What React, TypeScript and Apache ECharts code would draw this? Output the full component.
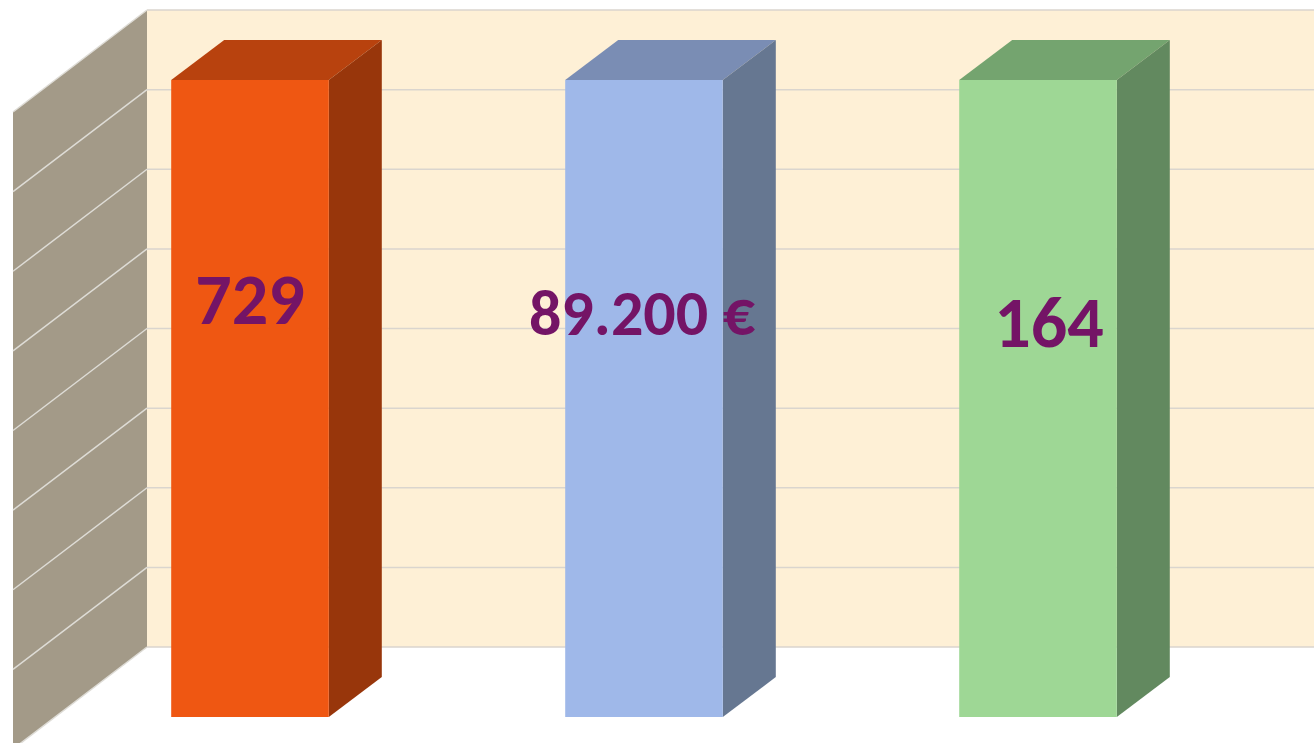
import React, { useEffect, useRef } from "react";
import * as echarts from "echarts";

// ---- data ----
const CATEGORIES = ["A", "B", "C"];
const BAR_HEIGHTS = [100, 100, 100]; // all bars reach the top of the scale
const BAR_LABELS = ["729", "89.200 €", "164"];
const TICK_VALUES = [0, 12.5, 25, 37.5, 50, 62.5, 75, 87.5, 100];

// ---- styles ----
const FRONT = ["#EF5712", "#9FB8E9", "#9ED795"];
const TOP = ["#B8420E", "#7A8DB4", "#74A46F"];
const SIDE = ["#98360B", "#667791", "#62895F"];
const LABEL_SIZES = [72, 64, 72];
const LABEL_OFFSETS = [[0, -100], [-2, -86], [11, -77]];
const BACK_OFF = [94, -70]; // front plane -> back wall
const BAR_DEPTH = [53, -40];
const WALL_DEPTH = [-134, 102]; // back wall -> front edge of side wall

export default function App() {
  const ref = useRef<HTMLDivElement>(null);
  useEffect(() => {
    if (!ref.current) return;
    const chart = echarts.init(ref.current, null, { renderer: "svg" });

    const wallsRender = (params: any, api: any) => {
      const children: any[] = [];
      const top = api.coord([0, 100]);
      const bot = api.coord([0, 0]);
      const left = params.coordSys.x;
      const bx = left + BACK_OFF[0];
      const yTop = top[1] + BACK_OFF[1];
      const yBot = bot[1] + BACK_OFF[1];
      // back wall
      children.push({
        type: "polygon",
        shape: { points: [[bx, yTop], [1400, yTop], [1400, yBot], [bx, yBot]] },
        style: { fill: "#FEF0D6" },
      });
      // side wall
      children.push({
        type: "polygon",
        shape: {
          points: [
            [bx, yTop],
            [bx, yBot],
            [bx + WALL_DEPTH[0], yBot + WALL_DEPTH[1]],
            [bx + WALL_DEPTH[0], yTop + WALL_DEPTH[1]],
          ],
        },
        style: { fill: "#A39A88" },
      });
      TICK_VALUES.forEach((v) => {
        const y = api.coord([0, v])[1] + BACK_OFF[1];
        children.push({
          type: "line",
          shape: { x1: bx, y1: y, x2: 1400, y2: y },
          style: { stroke: "#DAD5CE", lineWidth: 1.5 },
        });
        children.push({
          type: "line",
          shape: { x1: bx, y1: y, x2: bx + WALL_DEPTH[0], y2: y + WALL_DEPTH[1] },
          style: { stroke: "#DEDCD6", lineWidth: 1.5 },
        });
      });
      return { type: "group", children };
    };

    const barsRender = (params: any, api: any) => {
      const i = params.dataIndex;
      const idx = api.value(0);
      const val = api.value(1);
      const p0 = api.coord([idx, 0]);
      const p1 = api.coord([idx, val]);
      const w = api.size([1, 0])[0] * 0.4;
      const x0 = p0[0] - w / 2;
      const x1 = p0[0] + w / 2;
      const yT = p1[1];
      const yB = p0[1];
      const [dx, dy] = BAR_DEPTH;
      const midY = (yT + yB) / 2;
      return {
        type: "group",
        children: [
          {
            type: "polygon",
            shape: { points: [[x0, yT], [x1, yT], [x1 + dx, yT + dy], [x0 + dx, yT + dy]] },
            style: { fill: TOP[i] },
          },
          {
            type: "polygon",
            shape: { points: [[x1, yT], [x1 + dx, yT + dy], [x1 + dx, yB + dy], [x1, yB]] },
            style: { fill: SIDE[i] },
          },
          {
            type: "rect",
            shape: { x: x0, y: yT, width: w, height: yB - yT },
            style: { fill: FRONT[i] },
          },
          {
            type: "text",
            x: p0[0] + LABEL_OFFSETS[i][0],
            y: midY + LABEL_OFFSETS[i][1],
            style: {
              text: BAR_LABELS[i],
              fill: "#741466",
              fontSize: LABEL_SIZES[i],
              fontWeight: "bold",
              fontFamily: "Calibri, Carlito, Lato, sans-serif",
              align: "center",
              verticalAlign: "middle",
            },
          },
        ],
      };
    };

    chart.setOption({
      animation: false,
      grid: { left: 53, right: 79, top: 80, bottom: 26 },
      xAxis: { type: "category", data: CATEGORIES, show: false },
      yAxis: { type: "value", min: 0, max: 100, interval: 12.5, show: false },
      series: [
        {
          type: "custom",
          z: 1,
          silent: true,
          data: [[0, 0]],
          encode: { x: 0, y: 1 },
          renderItem: wallsRender,
        },
        {
          type: "custom",
          z: 2,
          data: BAR_HEIGHTS.map((h, i) => [i, h]),
          encode: { x: 0, y: 1 },
          renderItem: barsRender,
        },
      ],
    });
    return () => chart.dispose();
  }, []);
  return (
    <div
      ref={ref}
      style={{ position: "fixed", left: 0, top: 0, width: 1314, height: 743, background: "#fff" }}
    />
  );
}
